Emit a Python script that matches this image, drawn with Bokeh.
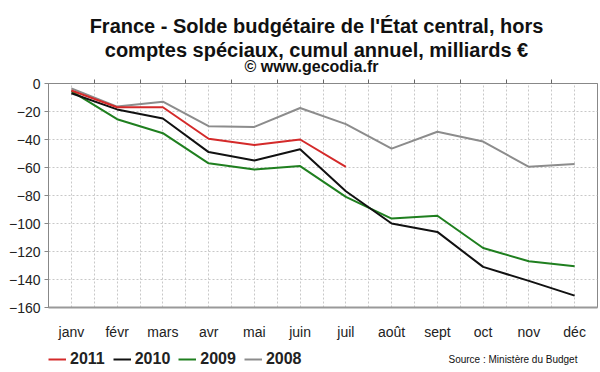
from bokeh.plotting import figure
from bokeh.layouts import column
from bokeh.models import (Range1d, FixedTicker, LinearAxis, Grid, Label, Legend, LegendItem,
                          ColumnDataSource)
from bokeh.embed import file_html
from bokeh.resources import INLINE

months = ["janv", "févr", "mars", "avr", "mai", "juin", "juil", "août", "sept", "oct", "nov", "déc"]
y2011 = [-5, -17, -17, -39.5, -44, -40, -59.5]
y2010 = [-7, -18.5, -25, -49, -55, -47, -77, -100, -106, -131, -141, -151.5]
y2009 = [-5.5, -25.5, -35.5, -57, -61.5, -59, -81, -96.5, -94.5, -117.5, -127, -130.5]
y2008 = [-3.5, -16.5, -13, -30.5, -31, -17.5, -29, -46.5, -34.5, -41.5, -59.5, -57.5]
y_ticks = [0, -20, -40, -60, -80, -100, -120, -140, -160]
years = ["2011", "2010", "2009", "2008"]
colors = {"2011": "#d42a2a", "2010": "#111111", "2009": "#1f7f1f", "2008": "#8c8c8c"}
values = {"2011": y2011, "2010": y2010, "2009": y2009, "2008": y2008}

FONT = "Liberation Sans"
n = len(months)
xs = list(range(n))
W = 600
BL, BR = 48, 3   # shared left/right borders (column aligns the frames)


def bare(height):
    f = figure(width=W, height=height, output_backend="svg", toolbar_location=None,
               x_range=Range1d(0, W - BL - BR), y_range=Range1d(0, height),
               min_border_left=BL, min_border_right=BR, min_border_top=0, min_border_bottom=0,
               x_axis_location=None, y_axis_location=None)
    f.grid.visible = False
    f.outline_line_color = None
    f.background_fill_color = "white"
    f.border_fill_color = "white"
    return f


def lab(fig, text, x, y, size, bold=True, align="center"):
    fig.add_layout(Label(x=x, y=y, x_units="screen", y_units="screen", text=text,
                         text_font=FONT, text_font_size=size,
                         text_font_style="bold" if bold else "normal",
                         text_align=align, text_baseline="alphabetic", text_color="#111111"))


# ---- title block
top = bare(76)
lab(top, "France - Solde budgétaire de l'État central, hors", 268, 51, "20px")
lab(top, "comptes spéciaux, cumul annuel, milliards €", 268, 27, "20px")
lab(top, "© www.gecodia.fr", 263, 10, "16px")

# ---- main chart
p = figure(width=W, height=266, output_backend="svg", toolbar_location=None,
           x_range=Range1d(-0.5, n - 0.5), y_range=Range1d(-160, 0),
           min_border_left=BL, min_border_right=BR, min_border_top=7, min_border_bottom=32,
           x_axis_location=None, y_axis_location=None)
p.outline_line_color = "#888888"
p.outline_line_width = 1
p.background_fill_color = "white"
p.border_fill_color = "white"
p.grid.visible = False

half_ticks = [i * 0.5 - 0.5 for i in range(2 * n + 1)]
p.add_layout(Grid(dimension=0, ticker=FixedTicker(ticks=half_ticks), grid_line_color="#c8c8c8",
                  grid_line_dash="2 2", grid_line_width=1))
p.add_layout(Grid(dimension=1, ticker=FixedTicker(ticks=y_ticks), grid_line_color="#c8c8c8",
                  grid_line_dash="2 2", grid_line_width=1))

ya = LinearAxis(ticker=FixedTicker(ticks=y_ticks))
ya.axis_line_color = "#888888"
ya.major_tick_line_color = "#888888"
ya.major_tick_out = 4
ya.major_tick_in = 0
ya.minor_tick_line_color = None
ya.major_label_text_font = FONT
ya.major_label_text_font_size = "14px"
ya.major_label_text_color = "#222222"
ya.major_label_standoff = 4
p.add_layout(ya, "left")

xa = LinearAxis(ticker=FixedTicker(ticks=xs))
xa.major_label_overrides = {i: m for i, m in enumerate(months)}
xa.axis_line_color = "#999999"
xa.axis_line_width = 2
xa.major_tick_line_color = None
xa.major_tick_out = 0
xa.major_tick_in = 0
xa.minor_tick_line_color = None
xa.major_label_text_font = FONT
xa.major_label_text_font_size = "14px"
xa.major_label_text_color = "#222222"
xa.major_label_standoff = 16
p.add_layout(xa, "below")

top_ticks = [i + 0.5 for i in range(n - 1)]
ta = LinearAxis(ticker=FixedTicker(ticks=top_ticks))
ta.major_label_overrides = {t: "" for t in top_ticks}
ta.axis_line_color = "#888888"
ta.major_tick_line_color = "#666666"
ta.major_tick_out = 4
ta.major_tick_in = 0
ta.minor_tick_line_color = None
ta.major_label_standoff = 0
ta.major_label_text_font_size = "1px"
p.add_layout(ta, "above")

for name in reversed(years):
    ys = values[name]
    src = ColumnDataSource(dict(x=xs[:len(ys)], y=ys))
    p.line("x", "y", source=src, line_color=colors[name], line_width=2)

# ---- legend + source block (series drawn out of view; only their legend glyphs show)
bot = bare(30)
items = []
for name in years:
    ys = values[name]
    r = bot.line(x=xs[:len(ys)], y=ys, line_color=colors[name], line_width=2)
    items.append(LegendItem(label=name, renderers=[r]))
legend = Legend(items=items, orientation="horizontal", location=(0, 4))
legend.label_text_font = FONT
legend.label_text_font_style = "bold"
legend.label_text_font_size = "16px"
legend.label_text_color = "#222222"
legend.glyph_width = 18
legend.glyph_height = 16
legend.label_standoff = 4
legend.spacing = 8
legend.padding = 0
legend.margin = 0
legend.border_line_color = None
legend.background_fill_alpha = 0
bot.add_layout(legend, "center")
lab(bot, "Source : Ministère du Budget", 400, 13, "10px", bold=False, align="left")

layout = column(top, p, bot, spacing=0)
open("out.html", "w").write(file_html(layout, INLINE))
